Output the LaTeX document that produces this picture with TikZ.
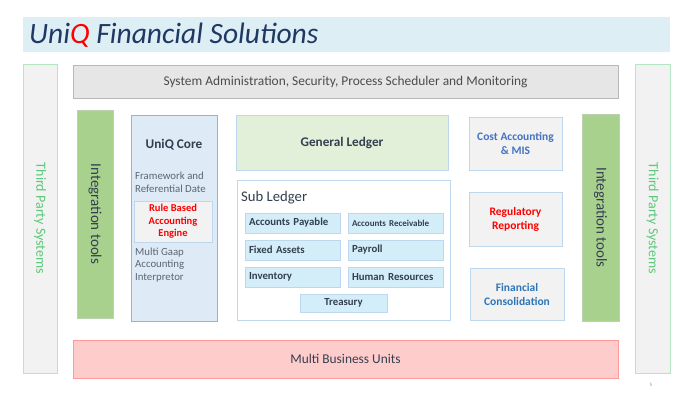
\documentclass[tikz,border=0pt]{standalone}
\usepackage{fontspec}
\setmainfont{Carlito}
\usepackage{xcolor}
\usetikzlibrary{positioning}
\definecolor{bandblue}{HTML}{DDEFF5}
\definecolor{titleblue}{HTML}{1F3864}
\definecolor{tpsgreen}{HTML}{5CC87A}
\definecolor{tpsline}{HTML}{B4E6C4}
\definecolor{lightgrey}{HTML}{F2F2F2}
\definecolor{admingrey}{HTML}{E6E6E6}
\definecolor{intgreen}{HTML}{A9D18E}
\definecolor{coreblue}{HTML}{DEEBF7}
\definecolor{lineblue}{HTML}{BDD7EE}
\definecolor{glgreen}{HTML}{E2F0D9}
\definecolor{subcyan}{HTML}{D3EEF8}
\definecolor{slate}{HTML}{333F50}
\definecolor{costblue}{HTML}{4472C4}
\definecolor{consblue}{HTML}{2E75B6}
\definecolor{mbupink}{HTML}{FFCCCC}
\tikzset{
	tpsbox/.style={draw=tpsline, fill=lightgrey, line width=1pt, rotate=-90, minimum width=309pt, minimum height=34pt, text=tpsgreen, font=\fontsize{14}{16}\selectfont},
	intbox/.style={draw=intgreen!85!black!60, fill=intgreen, rotate=-90, minimum width=208pt, minimum height=36pt, text=slate, font=\fontsize{15}{17}\selectfont},
	modbox/.style={draw=lineblue, fill=lightgrey, minimum width=93pt, minimum height=53pt, align=center, font=\fontsize{11.5}{14}\selectfont\bfseries},
	subitem/.style={draw=lineblue, fill=subcyan, minimum height=20pt, text width=87pt, inner xsep=4pt, align=left, text=slate, font=\fontsize{10.8}{12}\selectfont\bfseries},
	widebar/.style={minimum width=545pt, align=center, text=slate, font=\fontsize{13.4}{15}\selectfont},
}

\begin{document}
\begin{tikzpicture}[x=1pt, y=-1pt, inner sep=0pt]
		\useasboundingbox[fill=white] (0,0) rectangle (700,400);

		% Title band
		\node[fill=bandblue, minimum width=647pt, minimum height=35pt] (band) at (346.5,34.5) {};
		\node[anchor=west, text=titleblue, font=\fontsize{29.5}{32}\selectfont\itshape] (title) at (29,35) {Uni\textcolor{red}{Q} Financial Solutions};

		% Third party systems
		\node[tpsbox] (tpsleft) at (40,218.5) {Third Party Systems};
		\node[tpsbox, minimum height=35pt] (tpsright) at (652.5,218.5) {Third Party Systems};

		% Top and bottom bars
		\node[widebar, draw=black!28, fill=admingrey, minimum height=33pt, text=black!70] (admin) at (345.5,81.5) {System Administration, Security, Process Scheduler and Monitoring};
		\node[widebar, draw=red!40, fill=mbupink, minimum height=38pt] (mbu) at (345.5,359) {Multi Business Units};

		% Integration tools
		\node[intbox] (intleft) at (95,214) {Integration tools};
		\node[intbox, minimum width=207pt, minimum height=37pt] (intright) at (600.5,217.5) {Integration tools};

		% UniQ core
		\node[draw=lineblue!80!blue, fill=coreblue, minimum width=86pt, minimum height=206pt] (core) at (174,218) {};
		\node[text=slate, font=\fontsize{13.3}{15}\selectfont\bfseries] (coretitle) at (174,145) {UniQ Core};
		\node[anchor=west, align=left, text=slate!80, font=\fontsize{10.8}{13}\selectfont] (framework) at (135,182) {Framework and\\Referential Date};
		\node[draw=lineblue, fill=lightgrey, minimum width=78pt, minimum height=41pt, align=center, text=red, font=\fontsize{10.5}{12.5}\selectfont\bfseries] (engine) at (173,221.5) {Rule Based\\Accounting\\Engine};
		\node[anchor=west, align=left, text=slate!80, font=\fontsize{10.8}{12.5}\selectfont] (gaap) at (135,265) {Multi Gaap\\Accounting\\Interpretor};

		% Ledgers
		\node[draw=lineblue, fill=glgreen, minimum width=212pt, minimum height=55pt, text=slate, font=\fontsize{13.2}{15}\selectfont\bfseries] (gl) at (342,142.5) {General Ledger};
		\node[draw=lineblue, fill=white, minimum width=213pt, minimum height=140pt] (sub) at (343.5,250) {};
		\node[anchor=west, text=slate, font=\fontsize{14.7}{17}\selectfont] (subtitle) at (241,198) {Sub Ledger};
		\node[subitem] (ap) at (292.5,223) {Accounts Payable};
		\node[subitem, font=\fontsize{9}{10}\selectfont\bfseries] (ar) at (395.5,223) {Accounts Receivable};
		\node[subitem] (fa) at (292.5,250) {Fixed Assets};
		\node[subitem] (pay) at (395.5,250) {Payroll};
		\node[subitem] (inv) at (292.5,277) {Inventory};
		\node[subitem] (hr) at (395.5,277) {Human Resources};
		\node[subitem, text width=79pt, minimum height=18pt, align=center] (treas) at (343.5,303) {Treasury};

		% Reporting modules
		\node[modbox, text=costblue] (cost) at (515.5,143.5) {Cost Accounting\\\& MIS};
		\node[modbox, minimum height=54pt, text=red] (reg) at (515.5,219) {Regulatory\\Reporting};
		\node[modbox, minimum width=94pt, minimum height=52pt, text=consblue] (cons) at (517,294) {Financial\\Consolidation};

		\node[text=black!45, font=\fontsize{5}{6}\selectfont] (page) at (651,385) {5};
	\end{tikzpicture}
\end{document}
